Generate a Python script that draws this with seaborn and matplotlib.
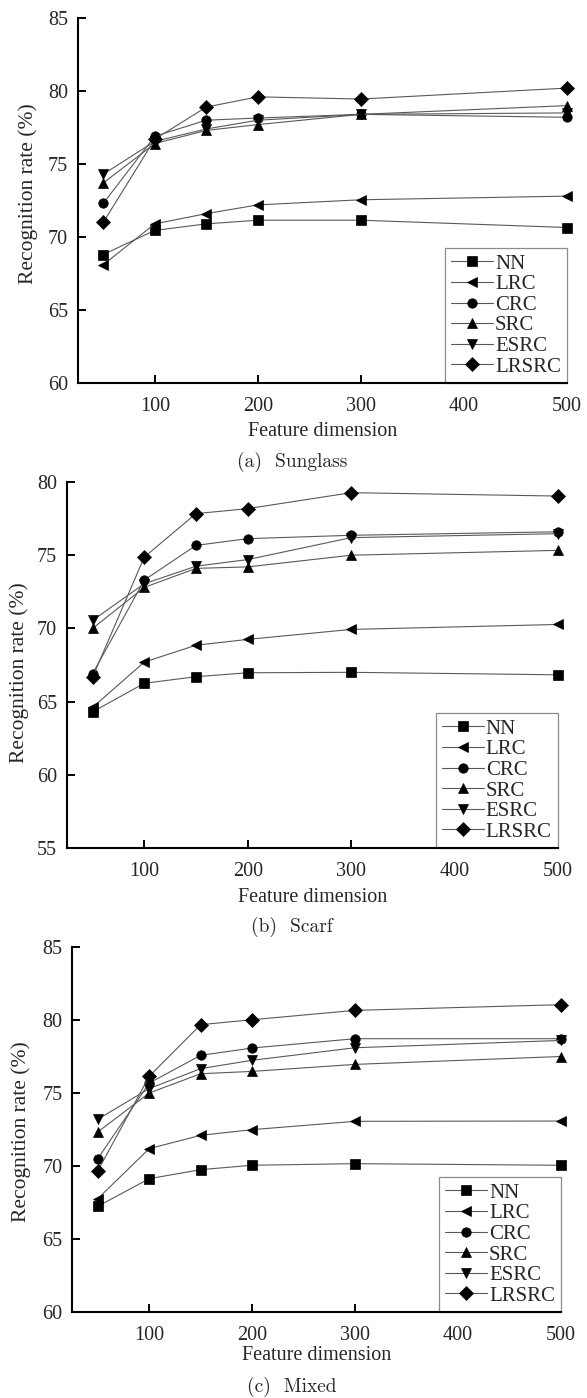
import matplotlib
matplotlib.use('Agg')
import matplotlib.pyplot as plt
import seaborn as sns
import pandas as pd

sns.set_style('ticks')
plt.rcParams['font.family'] = ['Liberation Serif', 'DejaVu Serif']

dims = [50, 100, 150, 200, 300, 500]
methods = ['NN', 'LRC', 'CRC', 'SRC', 'ESRC', 'LRSRC']
markers = ['s', '<', 'o', '^', 'v', 'D']

# (a) Sunglass
sun_nn = [68.8, 70.45, 70.9, 71.15, 71.15, 70.65]
sun_lrc = [68.1, 70.9, 71.6, 72.2, 72.55, 72.8]
sun_crc = [72.3, 76.9, 78.0, 78.15, 78.4, 78.2]
sun_src = [73.7, 76.4, 77.3, 77.7, 78.4, 79.0]
sun_esrc = [74.3, 76.55, 77.4, 78.0, 78.4, 78.5]
sun_lrsrc = [71.0, 76.7, 78.9, 79.6, 79.45, 80.2]

# (b) Scarf
scarf_nn = [64.3, 66.25, 66.7, 66.97, 67.0, 66.83]
scarf_lrc = [64.6, 67.7, 68.85, 69.25, 69.93, 70.27]
scarf_crc = [66.9, 73.3, 75.67, 76.13, 76.36, 76.6]
scarf_src = [70.0, 72.8, 74.1, 74.2, 75.0, 75.33]
scarf_esrc = [70.55, 73.05, 74.25, 74.7, 76.2, 76.47]
scarf_lrsrc = [66.67, 74.87, 77.84, 78.18, 79.27, 79.04]

# (c) Mixed
mix_nn = [67.24, 69.13, 69.75, 70.05, 70.16, 70.05]
mix_lrc = [67.76, 71.19, 72.1, 72.49, 73.06, 73.08]
mix_crc = [70.5, 75.68, 77.58, 78.08, 78.72, 78.72]
mix_src = [72.33, 75.0, 76.32, 76.48, 76.96, 77.5]
mix_esrc = [73.2, 75.3, 76.67, 77.24, 78.1, 78.6]
mix_lrsrc = [69.66, 76.14, 79.68, 80.02, 80.66, 81.05]

panels = [
    ('(a)  Sunglass', [sun_nn, sun_lrc, sun_crc, sun_src, sun_esrc, sun_lrsrc], (60, 85)),
    ('(b)  Scarf', [scarf_nn, scarf_lrc, scarf_crc, scarf_src, scarf_esrc, scarf_lrsrc], (55, 80)),
    ('(c)  Mixed', [mix_nn, mix_lrc, mix_crc, mix_src, mix_esrc, mix_lrsrc], (60, 85)),
]

W, H = 587, 1398
# axes boxes in pixels: left, right, top, bottom
boxes = [(77.5, 567, 18, 383), (66.7, 558, 482, 848), (72, 561, 947, 1312)]
ylabel_pos = [(-0.101, 0.52), (-0.097, 0.478), (-0.105, 0.493)]
xlabel_y = [432, 897, 1355]
caption_y = [462, 927, 1387]

fig = plt.figure(figsize=(W / 100, H / 100), dpi=100)

for i, (caption, series, ylim) in enumerate(panels):
    l, r, t, b = boxes[i]
    ax = fig.add_axes([l / W, (H - b) / H, (r - l) / W, (b - t) / H])

    df = pd.DataFrame({
        'dim': dims * len(methods),
        'rate': [v for s in series for v in s],
        'method': [m for m in methods for _ in dims],
    })
    sns.lineplot(data=df, x='dim', y='rate', style='method', style_order=methods,
                 markers=markers, dashes=False, color='0.35', lw=0.8, markersize=6.8,
                 markerfacecolor='k', markeredgecolor='k', markeredgewidth=0.5,
                 errorbar=None, legend=False, sort=False, clip_on=False, ax=ax)

    ax.set_xlim(25, 500)
    ax.set_ylim(*ylim)
    ax.set_xticks([100, 200, 300, 400, 500])
    ax.set_yticks(range(ylim[0], ylim[1] + 1, 5))
    ax.tick_params(direction='in', length=5.5, width=1.4, labelsize=14.5, color='k')
    ax.tick_params(axis='x', pad=10)
    ax.tick_params(axis='y', pad=7)
    sns.despine(ax=ax)
    for sp in ['left', 'bottom']:
        ax.spines[sp].set_linewidth(1.5)
        ax.spines[sp].set_color('k')

    ax.set_xlabel('Feature dimension', fontsize=14.5)
    ax.xaxis.label.set_va('center')
    ax.xaxis.set_label_coords(0.5, (b - xlabel_y[i]) / (b - t))
    ax.set_ylabel('Recognition rate (%)', fontsize=15.5)
    ax.yaxis.label.set_va('center')
    ax.yaxis.set_label_coords(*ylabel_pos[i])

    leg = ax.legend(handles=ax.lines[:len(methods)], labels=methods, loc='lower right',
                    bbox_to_anchor=(1, 0), borderaxespad=0, fancybox=False,
                    edgecolor='0.55', framealpha=1, fontsize=15, handlelength=2.0,
                    handletextpad=0.1, labelspacing=0.05, borderpad=0.3)
    leg.get_frame().set_linewidth(0.9)
    # keep the axis spine and ticks visible over the legend box
    leg.set_zorder(2.2)

    fig.text(0.497, (H - caption_y[i]) / H, caption, family='cmr10', fontsize=14,
             ha='center', va='center')

fig.savefig('out.png', dpi=100)
